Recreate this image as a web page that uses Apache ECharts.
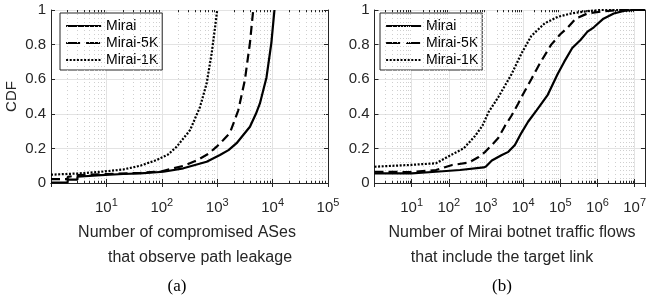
<!DOCTYPE html>
<html>
<head>
<meta charset="utf-8">
<script src="https://cdn.jsdelivr.net/npm/echarts@6/dist/echarts.min.js"></script>
<style>
html,body{margin:0;padding:0;background:#fff;}
#c{width:649px;height:304px;}
</style>
</head>
<body>
<div id="c"></div>
<script>
// ---- data ----
const seriesNames = ['Mirai', 'Mirai-5K', 'Mirai-1K'];

// (a) Number of compromised ASes that observe path leakage
const aMiraiX   = [1, 2, 2, 3, 3, 8, 20, 41, 107, 245, 645, 1120, 1600, 2240, 3000, 3900, 5000, 5900, 7760, 9500, 10800];
const aMiraiY   = [0.003, 0.003, 0.02, 0.02, 0.036, 0.046, 0.052, 0.056, 0.065, 0.085, 0.123, 0.162, 0.19, 0.23, 0.28, 0.325, 0.40, 0.46, 0.61, 0.81, 1.0];
const aMirai5kX = [1, 2, 2, 3, 10, 41, 100, 162, 250, 426, 700, 980, 1300, 1700, 2400, 3160, 3900, 4470];
const aMirai5kY = [0.022, 0.022, 0.035, 0.045, 0.052, 0.058, 0.068, 0.085, 0.10, 0.13, 0.17, 0.21, 0.25, 0.29, 0.42, 0.595, 0.81, 1.0];
const aMirai1kX = [1, 3, 8, 20, 41, 81, 130, 186, 324, 490, 645, 795, 915, 1000];
const aMirai1kY = [0.048, 0.055, 0.065, 0.078, 0.10, 0.133, 0.165, 0.21, 0.306, 0.44, 0.576, 0.75, 0.90, 1.0];

// (b) Number of Mirai botnet traffic flows that include the target link
const bMiraiX   = [1, 10, 45, 200, 870, 1000, 1440, 2600, 4000, 6000, 9000, 13600, 23000, 46000, 85000, 127000, 210000, 350000, 540000, 800000, 1450000, 2750000, 5100000, 9300000, 19000000];
const bMiraiY   = [0.056, 0.056, 0.065, 0.075, 0.09, 0.095, 0.13, 0.16, 0.18, 0.22, 0.29, 0.354, 0.42, 0.51, 0.63, 0.70, 0.78, 0.827, 0.875, 0.90, 0.95, 0.98, 0.995, 1.0, 1.0];
const bMirai5kX = [1, 10, 45, 124, 345, 637, 955, 1440, 2140, 3240, 4900, 7400, 11000, 16600, 28000, 57000, 100000, 160000, 260000, 540000, 1200000, 3400000, 19000000];
const bMirai5kY = [0.065, 0.063, 0.075, 0.104, 0.118, 0.15, 0.18, 0.22, 0.26, 0.33, 0.39, 0.46, 0.53, 0.60, 0.69, 0.80, 0.86, 0.90, 0.95, 0.98, 0.99, 1.0, 1.0];
const bMirai1kX = [1, 10, 45, 100, 250, 500, 800, 1175, 2200, 4900, 9100, 16600, 38000, 85000, 195000, 540000, 1200000, 19000000];
const bMirai1kY = [0.094, 0.105, 0.114, 0.155, 0.20, 0.27, 0.33, 0.41, 0.50, 0.63, 0.75, 0.85, 0.923, 0.96, 0.98, 0.994, 1.0, 1.0];

const aXMin = 1, aXMax = 1e5;
const bXMin = 1, bXMax = 1.9e7;
const yTickValues = [0, 0.2, 0.4, 0.6, 0.8, 1];

// ---- styling ----
const AX = '#262626';
const GRID = '#e3e3e3';
const MINOR = '#cfcfcf';
const FONT = 'Liberation Sans';
const DASHES = ['solid', [9, 5], [2, 1.6]];
const LEGEND_DASHES = ['solid', [14, 6], [2, 1.6]];

function zip(xs, ys) { return xs.map((x, i) => [x, ys[i]]); }

function minorValues(max) {
  const out = [];
  for (let p = 1; p < max; p *= 10) {
    for (let k = 2; k <= 9; k++) {
      const v = k * p;
      if (v < max) out.push(v);
    }
  }
  return out;
}

function expLabel(v) {
  const e = Math.log10(v);
  const r = Math.round(e);
  if (Math.abs(e - r) < 1e-6 && r >= 1) return '{b|10}{s|' + r + '}';
  return '';
}

function xAxisPair(gi, min, max) {
  return [
    {
      type: 'log', logBase: 10, gridIndex: gi, min: min, max: max, position: 'bottom',
      axisLine: { show: true, lineStyle: { color: AX, width: 1 } },
      axisTick: { show: true, inside: true, length: 4, lineStyle: { color: AX } },
      minorTick: { show: false },
      splitLine: { show: true, lineStyle: { color: GRID, width: 1 } },
      axisLabel: {
        show: true, margin: 14, formatter: expLabel, color: AX,
        rich: {
          b: { fontFamily: FONT, fontSize: 15, color: AX, lineHeight: 22 },
          s: { fontFamily: FONT, fontSize: 11, color: AX, lineHeight: 11, verticalAlign: 'top' }
        }
      }
    },
    {
      type: 'log', logBase: 10, gridIndex: gi, min: min, max: max, position: 'top',
      axisLine: { show: true, lineStyle: { color: AX, width: 1 } },
      axisTick: { show: true, inside: true, length: 4, lineStyle: { color: AX } },
      splitLine: { show: false },
      axisLabel: { show: false }
    }
  ];
}

function yAxisPair(gi) {
  return [
    {
      type: 'value', gridIndex: gi, min: 0, max: 1, interval: 0.2, position: 'left',
      axisLine: { show: true, lineStyle: { color: AX, width: 1 } },
      axisTick: { show: true, inside: true, length: 4, lineStyle: { color: AX } },
      splitLine: { show: true, lineStyle: { color: GRID, width: 1 } },
      axisLabel: {
        show: true, margin: 5, color: AX, fontFamily: FONT, fontSize: 15,
        formatter: v => (yTickValues.some(t => Math.abs(t - v) < 1e-9) ? String(+v.toFixed(1)) : '')
      }
    },
    {
      type: 'value', gridIndex: gi, min: 0, max: 1, interval: 0.2, position: 'right',
      axisLine: { show: true, lineStyle: { color: AX, width: 1 } },
      axisTick: { show: true, inside: true, length: 4, lineStyle: { color: AX } },
      splitLine: { show: false },
      axisLabel: { show: false }
    }
  ];
}

function curve(idx, xs, ys, gi) {
  return {
    name: seriesNames[idx], type: 'line', xAxisIndex: gi * 2, yAxisIndex: gi * 2,
    data: zip(xs, ys), showSymbol: false, symbol: 'none', smooth: false,
    lineStyle: { color: '#000', width: 2.2, type: DASHES[idx], cap: 'butt' },
    itemStyle: { color: '#000' },
    z: 5
  };
}

function minorGridSeries(gi, max) {
  const vals = minorValues(max);
  const data = [];
  vals.forEach(v => data.push({ xAxis: v }));
  return {
    type: 'line', xAxisIndex: gi * 2, yAxisIndex: gi * 2, data: [], silent: true, z: 1,
    markLine: {
      silent: true, symbol: ['none', 'none'], animation: false,
      label: { show: false },
      lineStyle: { color: MINOR, width: 1, type: [1, 3] },
      emphasis: { disabled: true },
      data: data
    }
  };
}

function minorTickSeries(gi, max) {
  const vals = minorValues(max);
  const data = [];
  vals.forEach(v => {
    data.push([{ coord: [v, 0] }, { coord: [v, 0.013] }]);
    data.push([{ coord: [v, 1] }, { coord: [v, 0.987] }]);
  });
  return {
    type: 'line', xAxisIndex: gi * 2, yAxisIndex: gi * 2, data: [], silent: true, z: 6,
    markLine: {
      silent: true, symbol: ['none', 'none'], animation: false,
      label: { show: false },
      lineStyle: { color: AX, width: 1, type: 'solid' },
      emphasis: { disabled: true },
      data: data
    }
  };
}

function legendAt(left) {
  return {
    show: true, orient: 'vertical', left: left, top: 13,
    data: seriesNames.map((n, i) => ({ name: n, lineStyle: { type: LEGEND_DASHES[i], width: 2.2, color: '#000' } })),
    selectedMode: false,
    itemWidth: 35, itemHeight: 14, itemGap: 3,
    padding: [6, 4, 3, 5],
    backgroundColor: '#fff', borderColor: AX, borderWidth: 1, borderRadius: 0,
    itemStyle: { opacity: 0, borderWidth: 0 },
    textStyle: { fontFamily: FONT, fontSize: 14, color: '#000' }
  };
}

const chart = echarts.init(document.getElementById('c'), null, { renderer: 'canvas' });

const option = {
  animation: false,
  backgroundColor: '#fff',
  grid: [
    { left: 51, top: 10, width: 277, height: 173, containLabel: false, show: false },
    { left: 374.5, top: 10, width: 273.5, height: 173, containLabel: false, show: false }
  ],
  xAxis: [].concat(xAxisPair(0, aXMin, aXMax), xAxisPair(1, bXMin, bXMax)),
  yAxis: [].concat(yAxisPair(0), yAxisPair(1)),
  legend: [legendAt(60), legendAt(380)],
  series: [
    minorGridSeries(0, aXMax),
    minorGridSeries(1, bXMax),
    minorTickSeries(0, aXMax),
    minorTickSeries(1, bXMax),
    curve(0, aMiraiX, aMiraiY, 0),
    curve(1, aMirai5kX, aMirai5kY, 0),
    curve(2, aMirai1kX, aMirai1kY, 0),
    curve(0, bMiraiX, bMiraiY, 1),
    curve(1, bMirai5kX, bMirai5kY, 1),
    curve(2, bMirai1kX, bMirai1kY, 1)
  ],
  graphic: [
    { type: 'text', x: 12, y: 96.5, rotation: Math.PI / 2,
      style: { text: 'CDF', fill: AX, font: '15px "Liberation Sans"', align: 'center', verticalAlign: 'middle' } },
    { type: 'text', x: 187, y: 233,
      style: { text: 'Number of compromised ASes', fill: AX, font: '16px "Liberation Sans"', align: 'center', verticalAlign: 'middle' } },
    { type: 'text', x: 200, y: 258,
      style: { text: 'that observe path leakage', fill: AX, font: '16px "Liberation Sans"', align: 'center', verticalAlign: 'middle' } },
    { type: 'text', x: 512, y: 233,
      style: { text: 'Number of Mirai botnet traffic flows', fill: AX, font: '16px "Liberation Sans"', align: 'center', verticalAlign: 'middle' } },
    { type: 'text', x: 502, y: 258,
      style: { text: 'that include the target link', fill: AX, font: '16px "Liberation Sans"', align: 'center', verticalAlign: 'middle' } },
    { type: 'text', x: 177, y: 287,
      style: { text: '(a)', fill: '#000', font: '17px "Liberation Serif"', align: 'center', verticalAlign: 'middle' } },
    { type: 'text', x: 502, y: 287,
      style: { text: '(b)', fill: '#000', font: '17px "Liberation Serif"', align: 'center', verticalAlign: 'middle' } }
  ]
};

chart.setOption(option);
</script>
</body>
</html>
